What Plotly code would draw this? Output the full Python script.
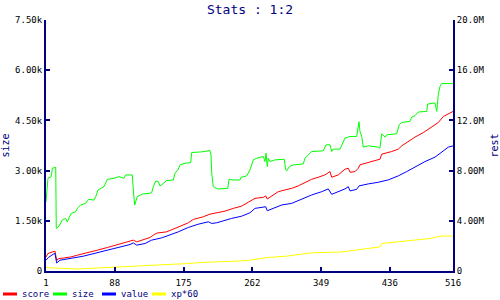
import plotly.graph_objects as go

# ---- data ----
size_x = [1, 3.5, 7.7, 9.0, 13.3, 14.0, 17.4, 21.6, 25.9, 28.0, 30.1, 33.0, 38.6, 40.6, 44.9,
          51.2, 53.3, 55.4, 61.7, 63.9, 66.8, 70.2, 74.4, 78.6, 87.0, 93.4, 99.7, 101.8, 110.2,
          111.5, 113.2, 116.5, 120.8, 122.9, 131.3, 134.7, 136.8, 139.8, 143.1, 145.3, 153.7,
          162.1, 164.2, 168.4, 170.6, 176.9, 184.1, 185.4, 198.0, 208.5, 209.8, 210.7, 212.7,
          218.3, 230.9, 232.6, 238.0, 246.5, 247.7, 254.9, 259.1, 263.3, 267.6, 276.0, 278.1,
          279.4, 281.0, 282.3, 284.4, 290.8, 302.5, 304.3, 305.6, 308.9, 313.9, 326.6, 328.7,
          332.9, 337.2, 351.9, 355.3, 360.4, 362.5, 364.5, 373.0, 379.3, 385.7, 394.1, 397.1,
          398.3, 400.5, 402.5, 408.8, 421.5, 423.6, 425.8, 429.9, 432.1, 444.7, 448.0, 451.1,
          461.6, 463.7, 467.9, 472.1, 482.7, 484.0, 493.2, 495.4, 497.4, 499.6, 501.7, 516]
size_y = [2070, 2770, 2820, 3070, 3100, 1270, 1340, 1520, 1570, 1470, 1590, 1720, 1770, 1870, 1970,
          2020, 2100, 2140, 2120, 2220, 2420, 2470, 2520, 2740, 2770, 2820, 2770, 2870, 2870,
          2420, 1970, 2220, 2270, 2300, 2320, 2340, 2520, 2690, 2670, 2540, 2700,
          2720, 2920, 3040, 3170, 3220, 3240, 3540, 3560, 3600, 3470, 2920, 2520,
          2450, 2470, 2740, 2720, 2720, 2800, 2840, 3020, 3320, 3370, 3420, 3270,
          3520, 3120, 3370, 3270, 3320, 3340, 3020, 2990, 3120, 3170, 3200, 3370,
          3470, 3570, 3590, 3770, 3770, 3570, 3640, 3640, 3970, 4020, 4020, 4460,
          4170, 4020, 3700, 3740, 3700, 3670, 4100, 4000, 4070, 4100, 4370, 4440,
          4470, 4600, 4640, 4750, 4770, 4990, 5020, 4770, 5270, 5520, 5600, 5600]

score_x = [1, 3.5, 9.0, 12.4, 14.5, 17.4, 23.8, 32.3, 40.6, 53.3, 65.9, 78.6, 89.2, 99.7, 108.2,
           111.5, 115.8, 124.1, 132.6, 136.8, 141.1, 153.7, 164.2, 172.7, 181.1, 187.4, 200.0,
           208.5, 217.0, 227.5, 238.0, 248.6, 257.0, 265.5, 276.0, 279.0, 281.0, 286.6, 294.9,
           303.4, 311.9, 320.2, 327.8, 337.2, 345.5, 354.0, 360.4, 362.5, 370.9, 379.3, 383.5,
           385.7, 392.0, 396.2, 398.3, 406.8, 417.3, 423.6, 425.8, 438.4, 446.8, 451.1, 459.4,
           467.9, 478.4, 489.1, 497.4, 503.7, 516]
score_y = [1.12, 1.39, 1.52, 1.58, 0.85, 0.99, 1.04, 1.12, 1.26, 1.44, 1.66, 1.87, 2.06, 2.19, 2.35,
           2.46, 2.32, 2.51, 2.67, 2.86, 3.02, 3.12, 3.39, 3.66, 3.84, 4.11, 4.32,
           4.53, 4.64, 4.77, 4.99, 5.17, 5.48, 5.79, 5.87, 5.98, 5.74, 5.98, 6.32,
           6.46, 6.59, 6.78, 7.04, 7.31, 7.47, 7.66, 7.92, 7.47, 7.66, 8.11, 8.19,
           7.87, 7.92, 8.19, 8.46, 8.59, 8.80, 8.91, 9.31, 9.52, 9.71, 9.97, 10.32,
           10.67, 11.03, 11.51, 11.83, 12.31, 12.71]

value_x = [1, 3.9, 10.2, 12.4, 14.5, 18.7, 48.2, 69.3, 107.3, 111.5, 115.8, 126.3, 134.7, 147.4,
           157.9, 168.4, 181.1, 193.7, 206.4, 210.7, 217.0, 223.3, 235.9, 248.6, 259.1, 265.5,
           276.0, 279.0, 281.0, 288.6, 299.2, 311.9, 320.2, 328.7, 337.2, 349.9, 358.2, 362.5,
           370.9, 379.3, 383.5, 385.7, 394.1, 397.1, 408.8, 421.5, 434.1, 446.8, 457.4, 467.9,
           480.6, 493.2, 501.7, 510.1, 516]
value_y = [0.86, 1.07, 1.34, 1.39, 0.64, 0.86, 1.18, 1.52, 2.11, 2.24, 2.06, 2.19, 2.46, 2.64,
           2.86, 3.12, 3.47, 3.73, 3.92, 3.79, 3.84, 3.97, 4.19, 4.37, 4.64, 4.99,
           5.07, 5.12, 4.80, 4.99, 5.26, 5.39, 5.60, 5.87, 6.06, 6.32, 6.54, 6.11,
           6.32, 6.54, 6.72, 6.38, 6.51, 6.78, 6.94, 7.07, 7.26, 7.58, 7.92, 8.27,
           8.72, 9.07, 9.44, 9.87, 9.97]

xp_x = [1, 40.6, 84.9, 114.5, 136.8, 162.1, 179.0, 195.9, 221.2, 246.5, 259.1, 280.2, 305.6,
        326.6, 335.1, 375.2, 385.7, 398.3, 423.6, 425.8, 446.8, 470.1, 486.9, 499.6, 516]
xp_y = [0.27, 0.16, 0.30, 0.38, 0.43, 0.51, 0.59, 0.67, 0.72, 0.80, 0.86, 1.07, 1.18,
        1.34, 1.44, 1.52, 1.60, 1.73, 1.92, 2.19, 2.32, 2.46, 2.59, 2.78, 2.78]

x_ticks = [1, 88, 175, 262, 349, 436, 516]
left_ticks = [0, 1500, 3000, 4500, 6000, 7500]
left_labels = ["0", "1.50k", "3.00k", "4.50k", "6.00k", "7.50k"]
right_ticks = [0, 4e6, 8e6, 12e6, 16e6, 20e6]
right_labels = ["0", "4.00M", "8.00M", "12.0M", "16.0M", "20.0M"]

legend_names = ["score", "size", "value", "xp*60"]
legend_colors = ["#ff0000", "#00ff00", "#0000ff", "#ffff00"]

NAVY = "#000080"
FONT = "DejaVu Sans Mono"

fig = go.Figure()
fig.add_trace(go.Scatter(x=score_x, y=[v * 1e6 for v in score_y], mode="lines",
                         line=dict(color="#ff0000", width=1), yaxis="y2", name="score"))
fig.add_trace(go.Scatter(x=size_x, y=size_y, mode="lines",
                         line=dict(color="#00ff00", width=1), name="size"))
fig.add_trace(go.Scatter(x=value_x, y=[v * 1e6 for v in value_y], mode="lines",
                         line=dict(color="#0000ff", width=1), yaxis="y2", name="value"))
fig.add_trace(go.Scatter(x=xp_x, y=[v * 1e6 for v in xp_y], mode="lines",
                         line=dict(color="#ffff00", width=1), yaxis="y2", name="xp*60"))

axis_common = dict(showgrid=False, zeroline=False, showline=True, linecolor=NAVY, linewidth=2,
                   ticks="inside", ticklen=4, tickwidth=2, tickcolor=NAVY, automargin=False,
                   tickfont=dict(family=FONT, size=9, color="black"))

fig.update_layout(
    width=500, height=300,
    margin=dict(l=46, r=47, t=20, b=29),
    paper_bgcolor="white", plot_bgcolor="white",
    showlegend=False,
    title=dict(text="Stats : 1:2", x=0.5, xanchor="center", y=0.968, yanchor="middle",
               font=dict(family=FONT, size=13, color=NAVY)),
    xaxis=dict(range=[1, 516], tickvals=x_ticks, ticktext=[str(t) for t in x_ticks],
               ticklabelstandoff=2, **axis_common),
    yaxis=dict(range=[0, 7500], tickvals=left_ticks, ticktext=left_labels,
               title=dict(text="size", font=dict(family=FONT, size=10, color=NAVY), standoff=7),
               **axis_common),
    yaxis2=dict(range=[0, 20e6], tickvals=right_ticks, ticktext=right_labels, overlaying="y",
                side="right",
                title=dict(text="rest", font=dict(family=FONT, size=10, color=NAVY), standoff=12),
                **axis_common),
)

# manual legend along the bottom
leg_px = [3, 53, 102, 152]
py = 294
for name, col, px in zip(legend_names, legend_colors, leg_px):
    x0 = (px - 46) / 407
    x1 = (px + 14 - 46) / 407
    yy = (271 - py) / 251
    fig.add_shape(type="line", xref="paper", yref="paper", x0=x0, x1=x1, y0=yy, y1=yy,
                  line=dict(color=col, width=3))
    fig.add_annotation(text=name, xref="paper", yref="paper", x=(px + 17 - 46) / 407, y=yy,
                       xanchor="left", yanchor="middle", showarrow=False,
                       font=dict(family=FONT, size=9, color=NAVY))

fig.write_html("out.html")
